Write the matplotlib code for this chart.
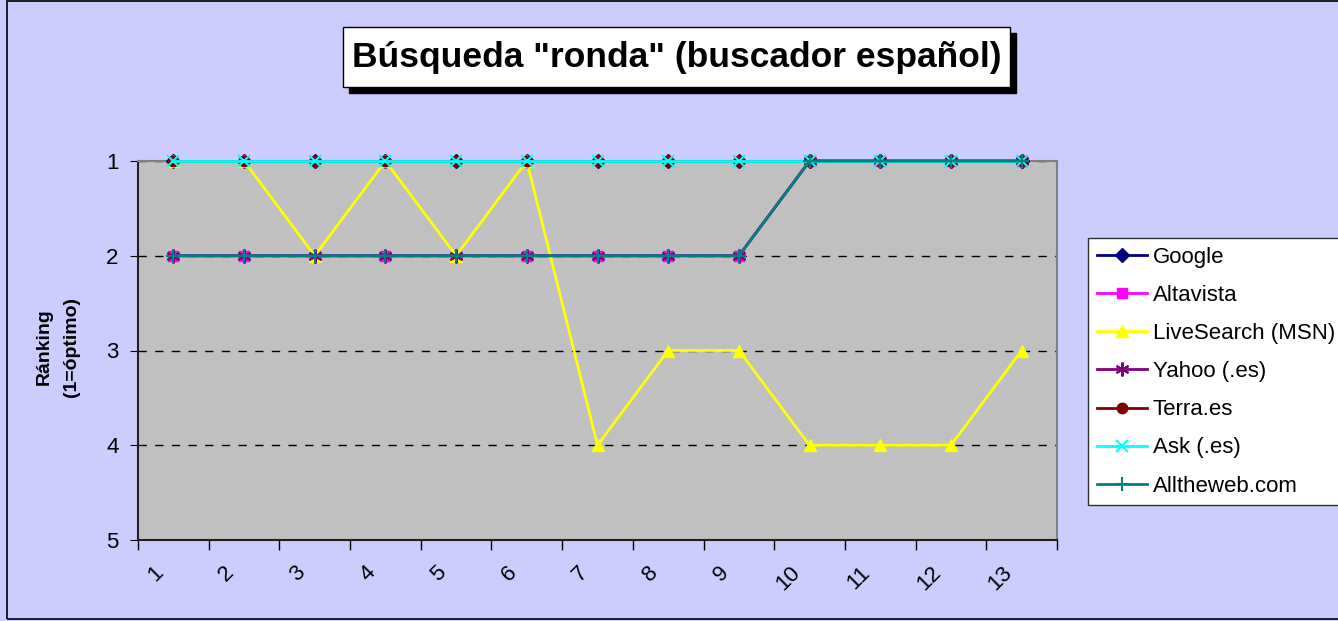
import matplotlib

matplotlib.use("Agg")
import matplotlib.pyplot as plt
from matplotlib.patches import Rectangle
from matplotlib.transforms import ScaledTranslation

plt.rcParams["font.family"] = ["Liberation Sans", "DejaVu Sans"]

BG = "#CCCCFF"
PLOT_BG = "#C0C0C0"

W, H = 1338, 621

categories = [1, 2, 3, 4, 5, 6, 7, 8, 9, 10, 11, 12, 13]
google = [1, 1, 1, 1, 1, 1, 1, 1, 1, 1, 1, 1, 1]
altavista = [2, 2, 2, 2, 2, 2, 2, 2, 2, 1, 1, 1, 1]
livesearch = [1, 1, 2, 1, 2, 1, 4, 3, 3, 4, 4, 4, 3]
yahoo = [2, 2, 2, 2, 2, 2, 2, 2, 2, 1, 1, 1, 1]
terra = [1, 1, 1, 1, 1, 1, 1, 1, 1, 1, 1, 1, 1]
ask = [1, 1, 1, 1, 1, 1, 1, 1, 1, 1, 1, 1, 1]
alltheweb = [2, 2, 2, 2, 2, 2, 2, 2, 2, 1, 1, 1, 1]

series = [
    ("Google", google, "#000080", "D", 7),
    ("Altavista", altavista, "#FF00FF", "s", 7.5),
    ("LiveSearch (MSN)", livesearch, "#FFFF00", "^", 8.5),
    ("Yahoo (.es)", yahoo, "#800080", (6, 2, 0), 10),
    ("Terra.es", terra, "#800000", "o", 7.5),
    ("Ask (.es)", ask, "#00FFFF", "x", 8),
    ("Alltheweb.com", alltheweb, "#008080", "+", 10),
]


def fx(px):
    return px / W


def fy(py):
    return 1 - py / H


fig = plt.figure(figsize=(W / 100, H / 100), dpi=100, facecolor=BG)

# outer chart border
fig.add_artist(Rectangle((fx(7), fy(619)), fx(1340 - 7), fy(1) - fy(619),
                         transform=fig.transFigure, fill=False,
                         edgecolor="black", linewidth=1.2))

ax = fig.add_axes([fx(138), fy(540), fx(1057 - 138), fy(161) - fy(540)])
ax.set_facecolor(PLOT_BG)

for name, vals, color, marker, ms in series:
    mew = 1.5 if marker in ("x", "+") or isinstance(marker, tuple) else 1
    ax.plot(categories, vals, color=color, linewidth=2, marker=marker,
            markersize=ms, markerfacecolor=color, markeredgecolor=color,
            markeredgewidth=mew, label=name, clip_on=False, zorder=3)

ax.set_xlim(0.5, 13.5)
ax.set_ylim(5, 1)
ax.set_yticks([1, 2, 3, 4, 5])
ax.set_xticks(categories)
ax.set_xticks([c - 0.5 for c in categories] + [13.5], minor=True)
ax.tick_params(axis="x", which="major", length=0, pad=21, labelsize=16,
               labelrotation=45)
ax.tick_params(axis="x", which="minor", length=7, direction="out", width=1)
ax.tick_params(axis="y", length=6, direction="out", pad=8, labelsize=16)
shift = ScaledTranslation(-13 / 100, 0, fig.dpi_scale_trans)
for lab in ax.get_xticklabels():
    lab.set_ha("right")
    lab.set_va("center")
    lab.set_rotation_mode("anchor")
    lab.set_transform(lab.get_transform() + shift)

ax.grid(axis="y", color="black", linestyle=(0, (6, 6)), linewidth=1)
ax.set_axisbelow(True)

ax.spines["left"].set_color("#202020")
ax.spines["bottom"].set_color("#202020")
ax.spines["top"].set_color("#808080")
ax.spines["right"].set_color("#808080")
for sp in ax.spines.values():
    sp.set_linewidth(1.5)

fig.text(fx(58), fy(347), "Ránking\n(1=óptimo)", rotation=90, ha="center",
         va="center", multialignment="center", fontsize=14,
         fontweight="bold", linespacing=1.75)

# title box with shadow
fig.add_artist(Rectangle((fx(349), fy(93)), fx(1016 - 349), fy(33) - fy(93),
                         transform=fig.transFigure, facecolor="black",
                         edgecolor="black"))
fig.add_artist(Rectangle((fx(343), fy(87)), fx(1010 - 343), fy(27) - fy(87),
                         transform=fig.transFigure, facecolor="white",
                         edgecolor="black", linewidth=1))
fig.text(fx(676.5), fy(57), 'Búsqueda "ronda" (buscador español)',
         ha="center", va="center", fontsize=25.5, fontweight="bold")

leg = fig.legend(loc="upper left", bbox_to_anchor=(fx(1088), fy(238)),
                 frameon=True, fancybox=False, facecolor="white",
                 edgecolor="#303030", fontsize=16, handlelength=2.25,
                 handletextpad=0.27, labelspacing=0.77, borderpad=0.4,
                 borderaxespad=0, framealpha=1)
leg.get_frame().set_linewidth(1)

fig.savefig("out.png", dpi=100, facecolor=BG)
